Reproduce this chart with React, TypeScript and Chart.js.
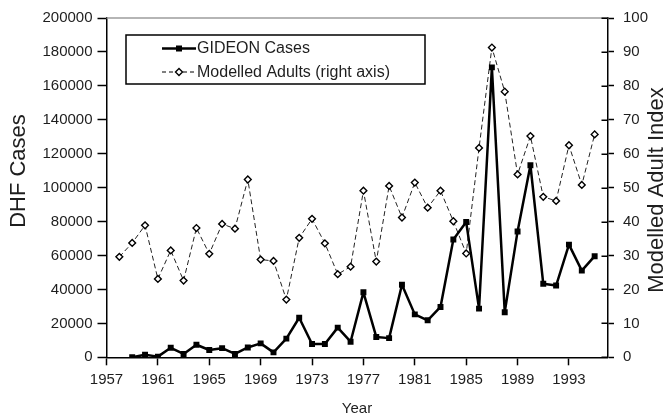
import React, { useEffect, useRef } from "react";
import { Chart, registerables } from "chart.js";

Chart.register(...registerables);

// ---- data ----
const gideonYears = [
  1959, 1960, 1961, 1962, 1963, 1964, 1965, 1966, 1967, 1968, 1969, 1970,
  1971, 1972, 1973, 1974, 1975, 1976, 1977, 1978, 1979, 1980, 1981, 1982,
  1983, 1984, 1985, 1986, 1987, 1988, 1989, 1990, 1991, 1992, 1993, 1994, 1995,
];
const gideonCases = [
  0, 1500, 400, 5600, 2000, 7400, 4300, 5400, 2000, 5800, 8200, 2900,
  11000, 23300, 7800, 7800, 17500, 9200, 38300, 12000, 11300, 42800, 25300, 21800,
  29700, 69400, 79700, 28700, 170900, 26600, 74200, 113200, 43300, 42300, 66400, 51100, 59600,
];
const modelYears = [
  1958, 1959, 1960, 1961, 1962, 1963, 1964, 1965, 1966, 1967, 1968, 1969,
  1970, 1971, 1972, 1973, 1974, 1975, 1976, 1977, 1978, 1979, 1980, 1981,
  1982, 1983, 1984, 1985, 1986, 1987, 1988, 1989, 1990, 1991, 1992, 1993, 1994, 1995,
];
const modelledAdults = [
  29.6, 33.7, 38.9, 23.1, 31.5, 22.6, 38.1, 30.5, 39.3, 37.9, 52.4, 28.8,
  28.4, 17.0, 35.2, 40.8, 33.6, 24.5, 26.7, 49.1, 28.2, 50.5, 41.2, 51.5,
  44.1, 49.1, 40.1, 30.6, 61.7, 91.3, 78.3, 53.9, 65.2, 47.3, 46.1, 62.5, 50.8, 65.7,
];
const xTickValues = [1957, 1961, 1965, 1969, 1973, 1977, 1981, 1985, 1989, 1993];
const seriesNames = ["GIDEON Cases", "Modelled Adults (right axis)"];
const leftTitle = "DHF Cases";
const rightTitle = "Modelled Adult Index";
const xTitle = "Year";

const FONT = "'Liberation Sans', Arial, Helvetica, sans-serif";
const TEXT = "#1e1e1e";

const overlay = {
  id: "overlay",
  afterDraw(chart: any) {
    const { ctx, chartArea: a, scales } = chart;
    ctx.save();
    // top frame line (gray)
    ctx.strokeStyle = "#9c9c9c";
    ctx.lineWidth = 1.5;
    ctx.beginPath();
    ctx.moveTo(a.left, a.top);
    ctx.lineTo(a.right, a.top);
    ctx.stroke();

    // inner halves of right-axis ticks (crossing ticks)
    const y1 = scales.y1;
    ctx.strokeStyle = "#000";
    ctx.lineWidth = 1.5;
    y1.ticks.forEach((t: any) => {
      const py = Math.round(y1.getPixelForValue(t.value)) + 0.25;
      ctx.beginPath();
      ctx.moveTo(a.right - 6, py);
      ctx.lineTo(a.right, py);
      ctx.stroke();
    });

    // rotated axis titles
    ctx.fillStyle = TEXT;
    ctx.font = `22px ${FONT}`;
    ctx.textAlign = "center";
    ctx.textBaseline = "middle";
    ctx.save();
    ctx.translate(19, 171);
    ctx.rotate(-Math.PI / 2);
    ctx.fillText(leftTitle, 0, 0);
    ctx.restore();
    ctx.save();
    ctx.translate(657, 190);
    ctx.rotate(-Math.PI / 2);
    ctx.fillText(rightTitle, 0, 0);
    ctx.restore();

    // legend box
    const bx = 126, by = 35, bw = 299, bh = 49;
    ctx.fillStyle = "#fff";
    ctx.fillRect(bx, by, bw, bh);
    ctx.strokeStyle = "#000";
    ctx.lineWidth = 1.5;
    ctx.strokeRect(bx, by, bw, bh);

    const r1 = 48.5, r2 = 72;
    const lx0 = 162, lx1 = 196, mx = 179;
    // row 1
    ctx.lineWidth = 2.5;
    ctx.beginPath();
    ctx.moveTo(lx0, r1);
    ctx.lineTo(lx1, r1);
    ctx.stroke();
    ctx.fillStyle = "#000";
    ctx.fillRect(mx - 3, r1 - 3, 6, 6);
    // row 2
    ctx.lineWidth = 1;
    ctx.setLineDash([4, 3]);
    ctx.beginPath();
    ctx.moveTo(lx0, r2);
    ctx.lineTo(lx1, r2);
    ctx.stroke();
    ctx.setLineDash([]);
    ctx.fillStyle = "#fff";
    ctx.lineWidth = 1.4;
    ctx.beginPath();
    ctx.moveTo(mx, r2 - 3.5);
    ctx.lineTo(mx + 3.5, r2);
    ctx.lineTo(mx, r2 + 3.5);
    ctx.lineTo(mx - 3.5, r2);
    ctx.closePath();
    ctx.fill();
    ctx.stroke();

    ctx.fillStyle = TEXT;
    ctx.font = `16px ${FONT}`;
    ctx.textAlign = "left";
    ctx.fillText(seriesNames[0], 197, r1 + 0.5);
    ctx.fillText(seriesNames[1], 197, r2 + 0.5);
    ctx.restore();
  },
};

export default function App() {
  const ref = useRef<HTMLCanvasElement | null>(null);

  useEffect(() => {
    document.body.style.margin = "0";
    const canvas = ref.current;
    if (!canvas) return;
    Chart.defaults.font.family = FONT;
    Chart.defaults.color = TEXT;

    const chart = new Chart(canvas, {
      type: "line",
      data: {
        datasets: [
          {
            label: seriesNames[0],
            data: gideonYears.map((yr, i) => ({ x: yr, y: gideonCases[i] })),
            yAxisID: "y",
            borderColor: "#000",
            backgroundColor: "#000",
            borderWidth: 2.5,
            borderJoinStyle: "round",
            pointStyle: "rect",
            pointRadius: 4.2,
            pointBorderWidth: 0,
            pointBackgroundColor: "#000",
            tension: 0,
            order: 1,
          },
          {
            label: seriesNames[1],
            data: modelYears.map((yr, i) => ({ x: yr, y: modelledAdults[i] })),
            yAxisID: "y1",
            borderColor: "#222",
            borderWidth: 1,
            borderDash: [5, 3],
            pointStyle: "rectRot",
            pointRadius: 3.4,
            pointBorderWidth: 1.4,
            pointBorderColor: "#000",
            pointBackgroundColor: "#fff",
            tension: 0,
            order: 2,
          },
        ],
      },
      options: {
        responsive: false,
        animation: false,
        devicePixelRatio: 1,
        layout: { padding: { top: 14.3, left: 0, right: 0, bottom: 0 } },
        plugins: {
          legend: { display: false },
          tooltip: { enabled: false },
        },
        scales: {
          x: {
            type: "linear",
            min: 1957,
            max: 1996,
            afterBuildTicks: (scale: any) => {
              scale.ticks = xTickValues.map((v) => ({ value: v }));
            },
            afterFit: (scale: any) => {
              scale.height = 60.7;
            },
            ticks: {
              autoSkip: false,
              maxRotation: 0,
              padding: 6,
              font: { size: 15 },
              color: TEXT,
              callback: (v: any) => String(v),
            },
            grid: {
              drawOnChartArea: false,
              drawTicks: true,
              tickLength: 8,
              tickColor: "#000",
              tickWidth: 1.5,
            },
            border: { display: true, color: "#000", width: 1.5 },
            title: {
              display: true,
              text: xTitle,
              font: { size: 15 },
              color: TEXT,
              padding: { top: 0, bottom: 0 },
            },
          },
          y: {
            type: "linear",
            position: "left",
            min: 0,
            max: 200000,
            ticks: {
              stepSize: 20000,
              padding: 5,
              font: { size: 15 },
              color: TEXT,
              callback: (v: any) => String(v),
            },
            afterFit: (scale: any) => {
              scale.width = 106.5;
            },
            grid: {
              drawOnChartArea: false,
              drawTicks: true,
              tickLength: 9,
              tickColor: "#000",
              tickWidth: 1.5,
            },
            border: { display: true, color: "#000", width: 1.5 },
          },
          y1: {
            type: "linear",
            position: "right",
            min: 0,
            max: 100,
            ticks: {
              stepSize: 10,
              padding: 9,
              font: { size: 15 },
              color: TEXT,
              callback: (v: any) => String(v),
            },
            afterFit: (scale: any) => {
              scale.width = 59.5;
            },
            grid: {
              drawOnChartArea: false,
              drawTicks: true,
              tickLength: 6.5,
              tickColor: "#000",
              tickWidth: 1.5,
            },
            border: { display: true, color: "#000", width: 1.5 },
          },
        },
      } as any,
      plugins: [overlay],
    });

    return () => chart.destroy();
  }, []);

  return (
    <div style={{ width: 667, height: 418, background: "#fff" }}>
      <canvas ref={ref} width={667} height={418} style={{ display: "block" }} />
    </div>
  );
}
